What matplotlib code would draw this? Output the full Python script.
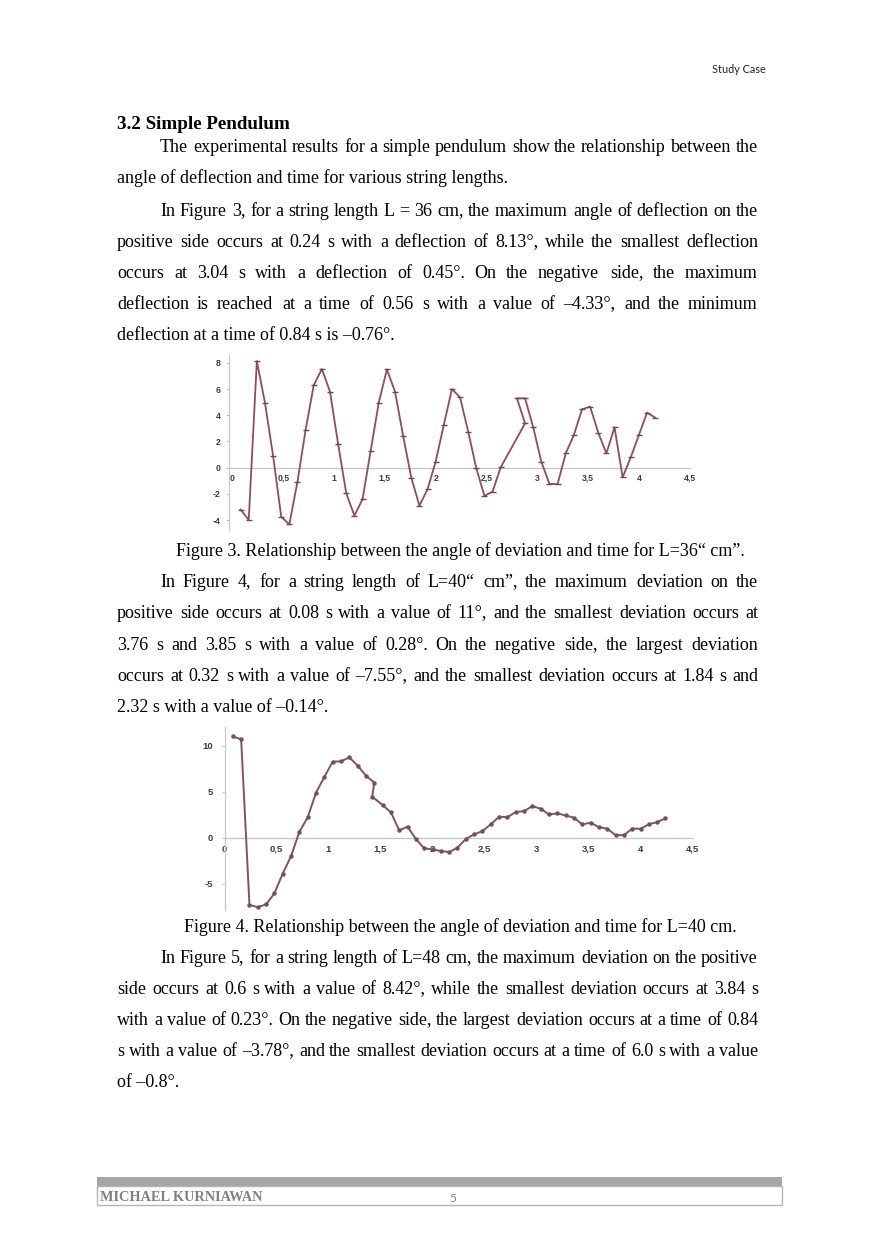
import matplotlib
matplotlib.use('Agg')
import matplotlib.pyplot as plt
from matplotlib.transforms import IdentityTransform
from matplotlib.patches import Rectangle
from matplotlib.font_manager import FontProperties

# ---------------- data ----------------
t_L36 = [0.08, 0.16, 0.24, 0.32, 0.40, 0.48, 0.56, 0.64, 0.72, 0.80, 0.88, 0.96,
         1.04, 1.12, 1.20, 1.28, 1.36, 1.44, 1.52, 1.60, 1.68, 1.76, 1.84, 1.92,
         2.00, 2.08, 2.16, 2.24, 2.32, 2.40, 2.48, 2.56, 2.64, 2.88, 2.80, 2.88,
         2.96, 3.04, 3.12, 3.20, 3.28, 3.36, 3.44, 3.52, 3.60, 3.68, 3.76, 3.84,
         3.92, 4.00, 4.08, 4.16]
angle_L36 = [-3.2, -4.0, 8.13, 4.96, 0.9, -3.75, -4.33, -1.07, 2.88, 6.3, 7.53, 5.8,
             1.8, -1.96, -3.66, -2.42, 1.27, 4.96, 7.5, 5.8, 2.42, -0.76, -2.9, -1.65,
             0.46, 3.26, 6.0, 5.37, 2.75, -0.05, -2.16, -1.83, 0.03, 3.38, 5.29, 5.29,
             3.08, 0.45, -1.25, -1.25, 1.09, 2.49, 4.45, 4.66, 2.67, 1.09, 3.08, -0.74,
             0.79, 2.49, 4.2, 3.82]

t_L40 = [0.08, 0.16, 0.24, 0.32, 0.40, 0.48, 0.56, 0.64, 0.72, 0.80, 0.88, 0.96,
         1.04, 1.12, 1.20, 1.28, 1.36, 1.44, 1.42, 1.52, 1.60, 1.68, 1.76, 1.84,
         1.92, 2.00, 2.08, 2.16, 2.24, 2.32, 2.40, 2.48, 2.56, 2.64, 2.72, 2.80,
         2.88, 2.96, 3.04, 3.12, 3.20, 3.28, 3.36, 3.44, 3.52, 3.60, 3.68, 3.76,
         3.84, 3.92, 4.00, 4.08, 4.16, 4.24]
angle_L40 = [11.0, 10.7, -7.3, -7.55, -7.25, -6.05, -3.9, -2.0, 0.65, 2.2, 4.9, 6.6,
             8.26, 8.3, 8.73, 7.83, 6.74, 5.98, 4.46, 3.55, 2.75, 0.8, 1.2, -0.14,
             -1.16, -1.27, -1.45, -1.56, -1.09, -0.14, 0.36, 0.72, 1.45, 2.28, 2.24, 2.78,
             2.89, 3.43, 3.15, 2.53, 2.64, 2.42, 2.17, 1.45, 1.63, 1.15, 0.98, 0.28,
             0.28, 0.98, 0.98, 1.45, 1.7, 2.1]

x_ticks = [0, 0.5, 1, 1.5, 2, 2.5, 3, 3.5, 4, 4.5]
x_tick_labels = ['0', '0,5', '1', '1,5', '2', '2,5', '3', '3,5', '4', '4,5']
y_ticks_L36 = [-4, -2, 0, 2, 4, 6, 8]
y_ticks_L40 = [-5, 0, 5, 10]

heading = "3.2 Simple Pendulum"
para1 = [("The experimental results for a simple pendulum show the relationship between the", True),
         ("angle of deflection and time for various string lengths.", False)]
para2 = [("In Figure 3, for a string length L = 36 cm, the maximum angle of deflection on the", True),
         ("positive side occurs at 0.24 s with a deflection of 8.13°, while the smallest deflection", True),
         ("occurs at 3.04 s with a deflection of 0.45°. On the negative side, the maximum", True),
         ("deflection is reached at a time of 0.56 s with a value of –4.33°, and the minimum", True),
         ("deflection at a time of 0.84 s is –0.76°.", False)]
caption1 = "Figure 3. Relationship between the angle of deviation and time for L=36“ cm”."
para3 = [("In Figure 4, for a string length of L=40“ cm”, the maximum deviation on the", True),
         ("positive side occurs at 0.08 s with a value of 11°, and the smallest deviation occurs at", True),
         ("3.76 s and 3.85 s with a value of 0.28°. On the negative side, the largest deviation", True),
         ("occurs at 0.32 s with a value of –7.55°, and the smallest deviation occurs at 1.84 s and", True),
         ("2.32 s with a value of –0.14°.", False)]
caption2 = "Figure 4. Relationship between the angle of deviation and time for L=40 cm."
para4 = [("In Figure 5, for a string length of L=48 cm, the maximum deviation on the positive", True),
         ("side occurs at 0.6 s with a value of 8.42°, while the smallest deviation occurs at 3.84 s", True),
         ("with a value of 0.23°. On the negative side, the largest deviation occurs at a time of 0.84", True),
         ("s with a value of –3.78°, and the smallest deviation occurs at a time of 6.0 s with a value", True),
         ("of –0.8°.", False)]

# ---------------- figure ----------------
W, H = 880, 1244
fig = plt.figure(figsize=(W / 100, H / 100), dpi=100)
fig.patch.set_facecolor('white')
renderer = fig.canvas.get_renderer()
TR = IdentityTransform()
SERIF = 'Liberation Serif'
FS = 12.96   # 18 px at 100 dpi


def put(x, y, s, **kw):
    return fig.text(x, H - y, s, transform=TR, **kw)


def baseline_fix(word):
    """Offset that makes Agg put every word's baseline on the same pixel row."""
    try:
        from matplotlib.backends.backend_agg import get_hinting_flag
        font = renderer._prepare_font(FontProperties(family=SERIF, size=FS))
        font.set_text(word, 0, flags=get_hinting_flag())
        _, h26 = font.get_width_height()
        d26 = font.get_descent()
        return h26 // 64 - (h26 - d26) // 64 - d26 / 64.0
    except Exception:
        return 0.0


def line_text(s, x0, x1, y, justify):
    kw = dict(fontsize=FS, family=SERIF, va='baseline', ha='left', color='black')
    if not justify:
        put(x0, y, s, **kw)
        return
    words = s.split(' ')
    ts = [put(0, y + baseline_fix(w), w, **kw) for w in words]
    widths = [t.get_window_extent(renderer).width for t in ts]
    gap = (x1 - x0 - sum(widths)) / (len(words) - 1)
    x = x0
    for t, w in zip(ts, widths):
        t.set_x(round(x))
        x += w + gap


def paragraph(lines, ys, left=117, indent=160, right=758):
    for i, ((s, j), y) in enumerate(zip(lines, ys)):
        line_text(s, indent if i == 0 else left, right, y, j)


# header
put(766, 73, "Study Case", fontsize=7.8, family='Lato', ha='right', va='baseline', color='#222222')
put(117, 129, heading, fontsize=13.68, family=SERIF, weight='bold', va='baseline')

paragraph(para1, [152, 183])
paragraph(para2, [216, 247, 278, 309, 340])
put(460, 556, caption1, fontsize=FS, family=SERIF, ha='center', va='baseline')
paragraph(para3, [587, 618, 650, 681, 712])
put(460.5, 932, caption2, fontsize=FS, family=SERIF, ha='center', va='baseline')
paragraph(para4, [963, 994, 1025, 1056, 1087])


# ---------------- charts ----------------
def px_axes(left, top, right, bottom):
    return fig.add_axes([left / W, 1 - bottom / H, (right - left) / W, (bottom - top) / H])


def style_axes(ax, yticks, xpad, ypad, lsize):
    ax.set_facecolor('none')
    for s in ('top', 'right'):
        ax.spines[s].set_visible(False)
    ax.spines['bottom'].set_position(('data', 0))
    ax.spines['bottom'].set_color('#c4c4c4')
    ax.spines['left'].set_color('#c8c8c8')
    ax.spines['bottom'].set_linewidth(0.9)
    ax.spines['left'].set_linewidth(0.9)
    ax.set_xticks(x_ticks)
    ax.set_xticklabels(x_tick_labels)
    ax.set_yticks(yticks)
    ax.set_yticklabels([str(v) for v in yticks])
    ax.tick_params(axis='x', length=0, pad=xpad, labelsize=lsize, labelcolor='#3c3c3c')
    ax.tick_params(axis='y', length=2.5, width=0.8, color='#c0c0c0', pad=ypad,
                   labelsize=lsize, labelcolor='#3c3c3c')
    for lab in ax.get_xticklabels() + ax.get_yticklabels():
        lab.set_fontweight('bold')
        lab.set_family('Liberation Sans')


# Figure 3 chart (L = 36 cm)
ax1 = px_axes(228.9, 355, 689.7, 530)
ax1.plot(t_L36, angle_L36, color='#944a5c', lw=1.3, marker='_', ms=4.5,
         mec='#6a4a50', mew=1.0, zorder=3)
ax1.set_xlim(-0.035, 4.5)
ax1.set_ylim(-4.76, 8.6)
style_axes(ax1, y_ticks_L36, 4.5, 3.5, 6.2)

# Figure 4 chart (L = 40 cm)
ax2 = px_axes(224.5, 727.3, 692.5, 909.9)
ax2.plot(t_L40, angle_L40, color='#85525b', lw=1.4, marker='o', ms=2.2,
         mfc='#6e5458', mec='#6e5458', zorder=3)
ax2.set_xlim(0, 4.5)
ax2.set_ylim(-7.85, 12)
style_axes(ax2, y_ticks_L40, 5.0, 6, 6.8)

# ---------------- footer ----------------
fig.patches.append(Rectangle((97, H - 1186), 685, 9, transform=TR,
                             facecolor='#a6a6a6', edgecolor='none'))
fig.patches.append(Rectangle((97, H - 1205), 685, 19, transform=TR,
                             facecolor='none', edgecolor='#b4b4b4', lw=1.0))
put(100, 1201, "MICHAEL KURNIAWAN", fontsize=10.3, family=SERIF, weight='bold',
    color='#808080', va='baseline')
put(449, 1202, "5", fontsize=8.5, family='Lato', color='#808080', va='baseline')

fig.savefig('out.png', dpi=100, facecolor='white')
